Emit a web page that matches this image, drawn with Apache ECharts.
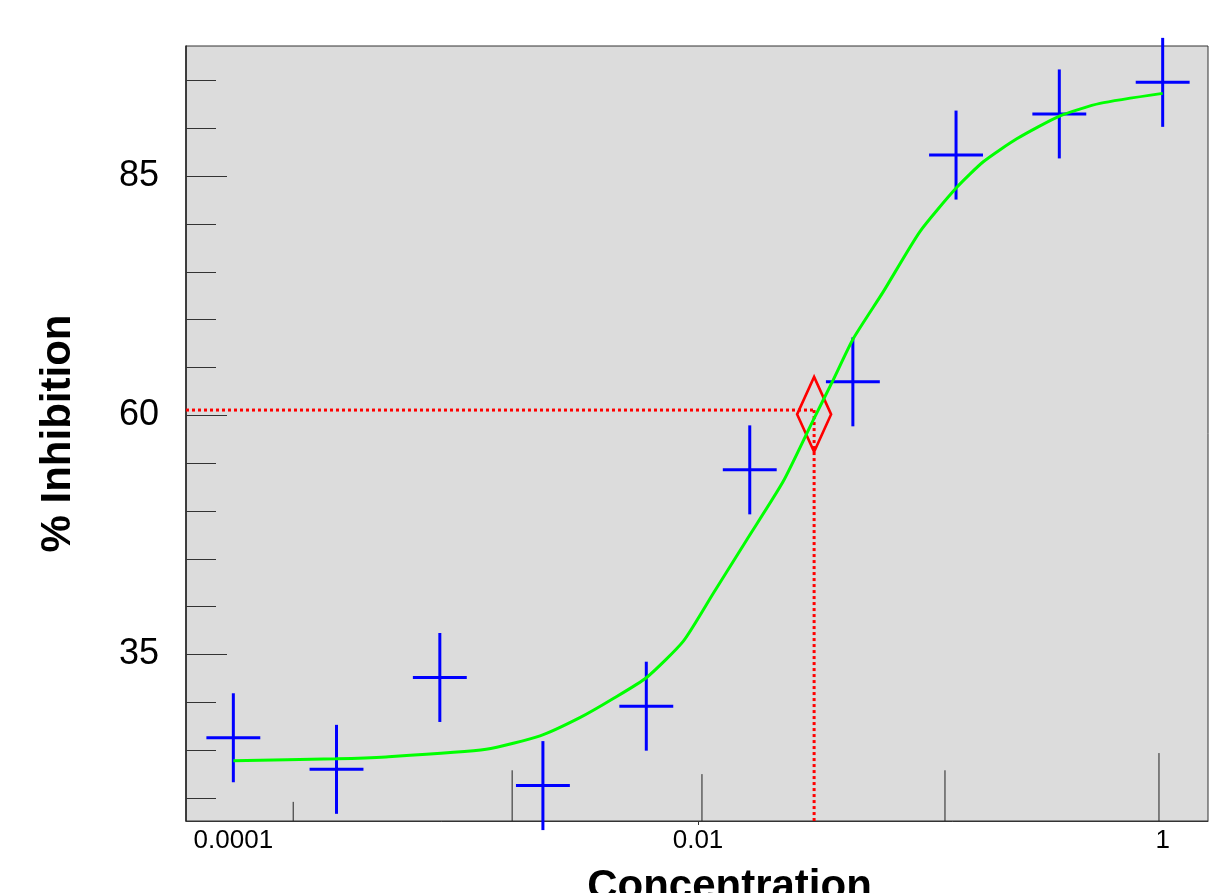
<!DOCTYPE html>
<html>
<head>
<meta charset="utf-8">
<script src="https://cdn.jsdelivr.net/npm/echarts@6/dist/echarts.min.js"></script>
<style>
  html, body { margin: 0; padding: 0; background: #ffffff; }
  #chart { width: 1217px; height: 893px; }
</style>
</head>
<body>
<div id="chart"></div>
<script>
// ---- data ----
const pointConc = [0.0001, 0.000278, 0.000774, 0.00215, 0.00599, 0.0167, 0.0464, 0.129, 0.359, 1];
const pointInhibition = [26.3, 23.0, 32.6, 21.3, 29.6, 54.3, 63.5, 87.2, 91.5, 94.8];
const pointYErr = [4.65, 4.65, 4.65, 4.65, 4.65, 4.65, 4.65, 4.65, 4.65, 4.65];
const pointXErrDecades = [0.116, 0.116, 0.116, 0.116, 0.116, 0.116, 0.116, 0.116, 0.116, 0.116];

const curveConc = [0.0001, 0.000277, 0.000454, 0.001225, 0.00209, 0.0031, 0.00432, 0.00601, 0.00865,
                   0.01164, 0.01622, 0.02328, 0.03133, 0.0382, 0.04656, 0.06266, 0.0902, 0.1297,
                   0.169, 0.2355, 0.3614, 0.537, 1];
const curveInhibition = [23.9, 24.1, 24.3, 25.1, 26.5, 28.4, 30.4, 32.6, 36.4,
                         41.4, 47.0, 53.1, 59.5, 63.7, 68.0, 72.9, 79.2, 83.8,
                         86.5, 88.9, 91.3, 92.6, 93.65];

const icConc = 0.0316;
const icLineLevel = 60.55;
const icMarkerLevel = 60.1;

const xMarkConc = [0.000181, 0.001585, 0.0104, 0.1156, 0.964];
const xMarkTop = [19.6, 22.9, 22.5, 22.9, 24.7];

const xTickConc = [0.0001, 0.01, 1];
const xTickLabels = ['0.0001', '0.01', '1'];
const yLabelValues = [35, 60, 85];
const yMinorValues = [20, 25, 30, 40, 45, 50, 55, 65, 70, 75, 80, 90, 95];

const xMinConc = 6.255e-5, xMaxConc = 1.567;
const yMin = 17.6, yMax = 98.6;

// ---- build ----
const lg = Math.log10;
const FONT = 'Liberation Sans, Arial, sans-serif';
const xMin = lg(xMinConc), xMax = lg(xMaxConc);

const points = pointConc.map((c, i) => [lg(c), pointInhibition[i], pointXErrDecades[i], pointYErr[i]]);
const curve = curveConc.map((c, i) => [lg(c), curveInhibition[i]]);
const marks = xMarkConc.map((c, i) => [lg(c), xMarkTop[i]]);
const labelMap = {};
xTickConc.forEach((c, i) => { labelMap[lg(c).toFixed(3)] = xTickLabels[i]; });

const chart = echarts.init(document.getElementById('chart'));
chart.setOption({
  animation: false,
  backgroundColor: '#ffffff',
  grid: {
    left: 186, top: 46, width: 1022, height: 775,
    outerBoundsMode: 'none', containLabel: false,
    show: true, backgroundColor: '#DCDCDC', borderColor: '#333333', borderWidth: 1
  },
  xAxis: {
    type: 'value', min: xMin, max: xMax,
    name: 'Concentration', nameLocation: 'middle', nameGap: 45,
    nameTextStyle: { fontFamily: FONT, fontSize: 42, fontWeight: 'bold', color: '#000', padding: [0, 0, 0, 65] },
    axisLine: { show: true, onZero: false, lineStyle: { color: '#333333', width: 1 } },
    axisTick: { show: true, customValues: [lg(0.01)], length: 4, lineStyle: { color: '#333333' } },
    axisLabel: {
      customValues: xTickConc.map(lg), margin: 7,
      fontFamily: FONT, fontSize: 26, color: '#000',
      formatter: v => labelMap[v.toFixed(3)] || ''
    },
    splitLine: { show: false }
  },
  yAxis: [{
    type: 'value', min: yMin, max: yMax,
    name: '% Inhibition', nameLocation: 'middle', nameGap: 107, nameRotate: 90,
    nameTextStyle: { fontFamily: FONT, fontSize: 42, fontWeight: 'bold', color: '#000' },
    axisLine: { show: true, onZero: false, lineStyle: { color: '#222222', width: 1.5 } },
    axisTick: { show: true, inside: true, length: 41, customValues: yLabelValues, lineStyle: { color: '#333333' } },
    axisLabel: { customValues: yLabelValues, margin: 27, padding: [10, 0, 0, 0], fontFamily: FONT, fontSize: 36, color: '#000' },
    splitLine: { show: false }
  }, {
    type: 'value', min: yMin, max: yMax, position: 'left',
    axisLine: { show: false, onZero: false },
    axisTick: { show: true, inside: true, length: 30, customValues: yMinorValues, lineStyle: { color: '#333333' } },
    axisLabel: { show: false },
    splitLine: { show: false }
  }],
  series: [
    {
      name: 'xMarks', type: 'custom', clip: false, silent: true,
      data: marks,
      renderItem: (params, api) => {
        const top = api.coord([api.value(0), api.value(1)]);
        const bot = api.coord([api.value(0), yMin]);
        return { type: 'line', shape: { x1: top[0], y1: top[1], x2: bot[0], y2: bot[1] },
                 style: { stroke: '#222222', lineWidth: 1 } };
      }
    },
    {
      name: 'icH', type: 'line', silent: true, symbol: 'none',
      data: [[xMin, icLineLevel], [lg(icConc), icLineLevel]],
      lineStyle: { color: '#FF0000', width: 3, type: [3, 3] }
    },
    {
      name: 'icV', type: 'line', silent: true, symbol: 'none',
      data: [[lg(icConc), icLineLevel], [lg(icConc), yMin]],
      lineStyle: { color: '#FF0000', width: 3, type: [3, 3] }
    },
    {
      name: 'IC', type: 'scatter', silent: true,
      data: [[lg(icConc), icMarkerLevel]],
      symbol: 'diamond', symbolSize: [34, 75],
      itemStyle: { color: 'rgba(0,0,0,0)', borderColor: '#FF0000', borderWidth: 3, opacity: 1 }
    },
    {
      name: 'points', type: 'custom', clip: false, silent: true,
      data: points,
      renderItem: (params, api) => {
        const x = api.value(0), y = api.value(1), ex = api.value(2), ey = api.value(3);
        const l = api.coord([x - ex, y]), r = api.coord([x + ex, y]);
        const t = api.coord([x, y + ey]), b = api.coord([x, y - ey]);
        const st = { stroke: '#0000FF', lineWidth: 3 };
        return { type: 'group', children: [
          { type: 'line', shape: { x1: l[0], y1: l[1], x2: r[0], y2: r[1] }, style: st },
          { type: 'line', shape: { x1: t[0], y1: t[1], x2: b[0], y2: b[1] }, style: st }
        ]};
      }
    },
    {
      name: 'fit', type: 'line', silent: true, symbol: 'none', smooth: 0.2,
      data: curve,
      lineStyle: { color: '#00FF00', width: 3 }
    }
  ]
});
</script>
</body>
</html>
